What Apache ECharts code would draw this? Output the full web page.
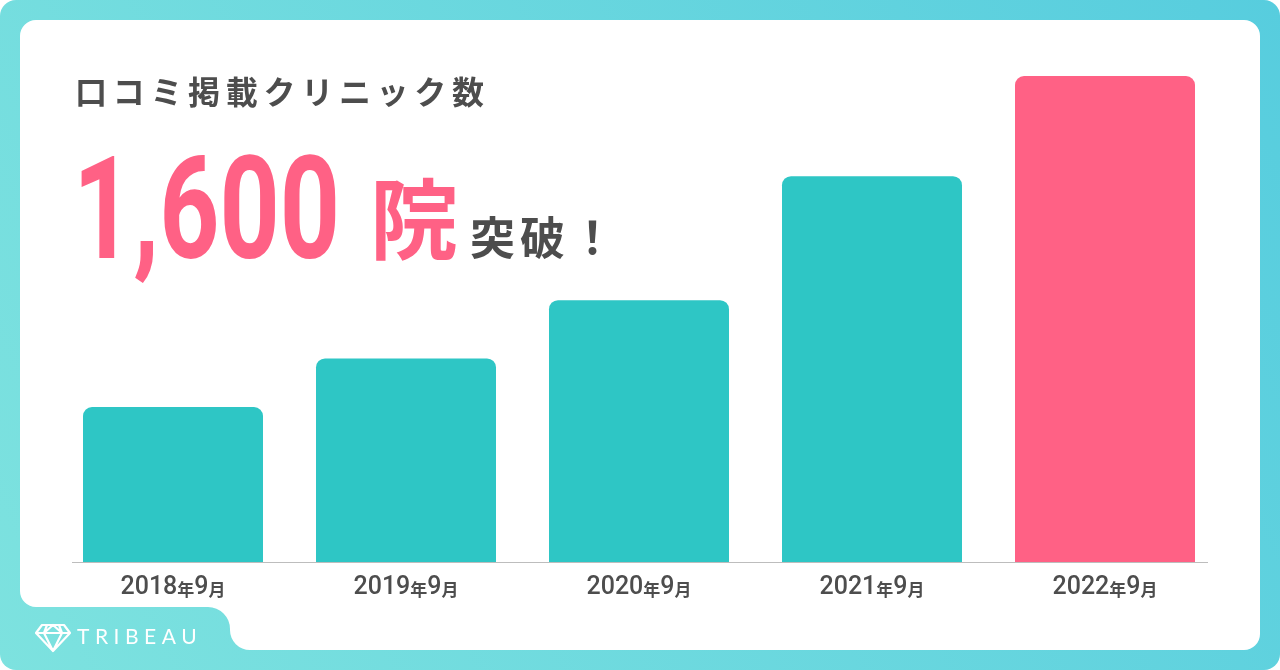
<!DOCTYPE html>
<html>
<head>
<meta charset="utf-8">
<script src="https://cdn.jsdelivr.net/npm/echarts@6/dist/echarts.min.js"></script>
<style>
  html, body { margin: 0; padding: 0; background: #fff; }
  #chart { width: 1280px; height: 670px; }
</style>
</head>
<body>
<div id="chart"></div>
<script>
// 掲載クリニック数（各年9月時点）
const years = ['2018', '2019', '2020', '2021', '2022'];
const months = ['9', '9', '9', '9', '9'];
const clinics = [510, 670, 862, 1270, 1600];
const headline = '口コミ掲載クリニック数';
const bigNumber = '1,600';
const bigUnit = '院';
const suffix = '突破！';
const brand = 'TRIBEAU';

const TEAL = '#2EC6C5';
const PINK = '#FF6185';
const GRAY = '#4D4D4D';

// 1文字ずつ rich に分けて字間をつける
function spaced(str, key) {
  return str.split('').map(c => '{' + key + '|' + c + '}').join('');
}

// 白いカード（左下のロゴ部分を切り欠き）とダイヤのアイコン
echarts.graphic.registerShape('card', echarts.graphic.extendPath(
  'M36,20 H1244 A16,16 0 0 1 1260,36 V634 A16,16 0 0 1 1244,650 H250 A20,20 0 0 1 230,630 V629 A22,22 0 0 0 208,607 H36 A16,16 0 0 1 20,591 V36 A16,16 0 0 1 36,20 Z'
));
echarts.graphic.registerShape('gem', echarts.graphic.extendPath(
  'M42,625 H64 L70,633 L53,651 L36,633 Z M36,633 H70 M47,625 L44,633 L53,651 L62,633 L59,625 M44,633 L53,625 L62,633'
));

const chart = echarts.init(document.getElementById('chart'));

const option = {
  animation: false,
  grid: { left: 56.5, right: 58.5, top: 76, bottom: 108 },
  xAxis: {
    type: 'category',
    data: years.map((y, i) => y + '年' + months[i] + '月'),
    axisLine: { show: false },
    axisTick: { show: false },
    axisLabel: {
      margin: 13,
      formatter: function (v) {
        const m = v.match(/^(\d+)年(\d+)月$/);
        return '{n|' + m[1] + '}{k|年}{n|' + m[2] + '}{k|月}';
      },
      rich: {
        n: { fontFamily: 'Roboto', fontWeight: 500, fontSize: 25, color: GRAY },
        k: { fontFamily: 'Noto Sans CJK JP', fontWeight: 'bold', fontSize: 17, color: GRAY, padding: [4, 0, 0, 0] }
      }
    }
  },
  yAxis: { type: 'value', min: 0, max: 1600, show: false },
  series: [{
    type: 'bar',
    barWidth: 180,
    data: clinics.map((v, i) => ({
      value: v,
      itemStyle: { color: i === clinics.length - 1 ? PINK : TEAL }
    })),
    itemStyle: { borderRadius: [9, 9, 0, 0] }
  }],
  graphic: [
    {
      type: 'rect', z: -10, silent: true,
      shape: { x: 0, y: 0, width: 1280, height: 670, r: 16 },
      style: {
        fill: new echarts.graphic.LinearGradient(0, 1, 1, 0, [
          { offset: 0, color: '#7DE2DF' },
          { offset: 1, color: '#57CDDE' }
        ])
      }
    },
    {
      type: 'card', z: -9, silent: true,
      style: { fill: '#fff' }
    },
    {
      type: 'line', silent: true,
      shape: { x1: 72, y1: 562.5, x2: 1208, y2: 562.5 },
      style: { stroke: '#BDBDBD', lineWidth: 1 }
    },
    {
      type: 'text', silent: true, left: 75, top: 76,
      style: {
        text: spaced(headline, 'c'),
        rich: { c: { fontFamily: 'Noto Sans CJK JP', fontWeight: 'bold', fontSize: 32, fill: GRAY, padding: [0, 5.7, 0, 0] } }
      }
    },
    {
      // DIN 風の細長い数字：横方向に縮める
      type: 'text', silent: true, x: 73, y: 222, scaleX: 0.74,
      style: {
        text: bigNumber,
        font: 'bold 142px Roboto',
        fill: PINK,
        verticalAlign: 'middle'
      }
    },
    {
      type: 'text', silent: true, x: 414, y: 219,
      style: {
        text: bigUnit,
        font: 'bold 88px "Noto Sans CJK JP"',
        fill: PINK,
        align: 'center',
        verticalAlign: 'middle'
      }
    },
    {
      type: 'text', silent: true, x: 470, y: 238,
      style: {
        text: spaced(suffix, 's'),
        verticalAlign: 'middle',
        rich: { s: { fontFamily: 'Noto Sans CJK JP', fontWeight: 'bold', fontSize: 45, fill: GRAY, padding: [0, 5, 0, 0] } }
      }
    },
    {
      type: 'gem', silent: true,
      style: { fill: null, stroke: '#fff', lineWidth: 2.2, lineJoin: 'round' }
    },
    {
      type: 'text', silent: true, x: 77, y: 637,
      style: {
        text: spaced(brand, 'b'),
        verticalAlign: 'middle',
        rich: { b: { fontFamily: 'Lato', fontWeight: 400, fontSize: 21, fill: '#fff', padding: [0, 5.5, 0, 0] } }
      }
    }
  ]
};

chart.setOption(option);
</script>
</body>
</html>
